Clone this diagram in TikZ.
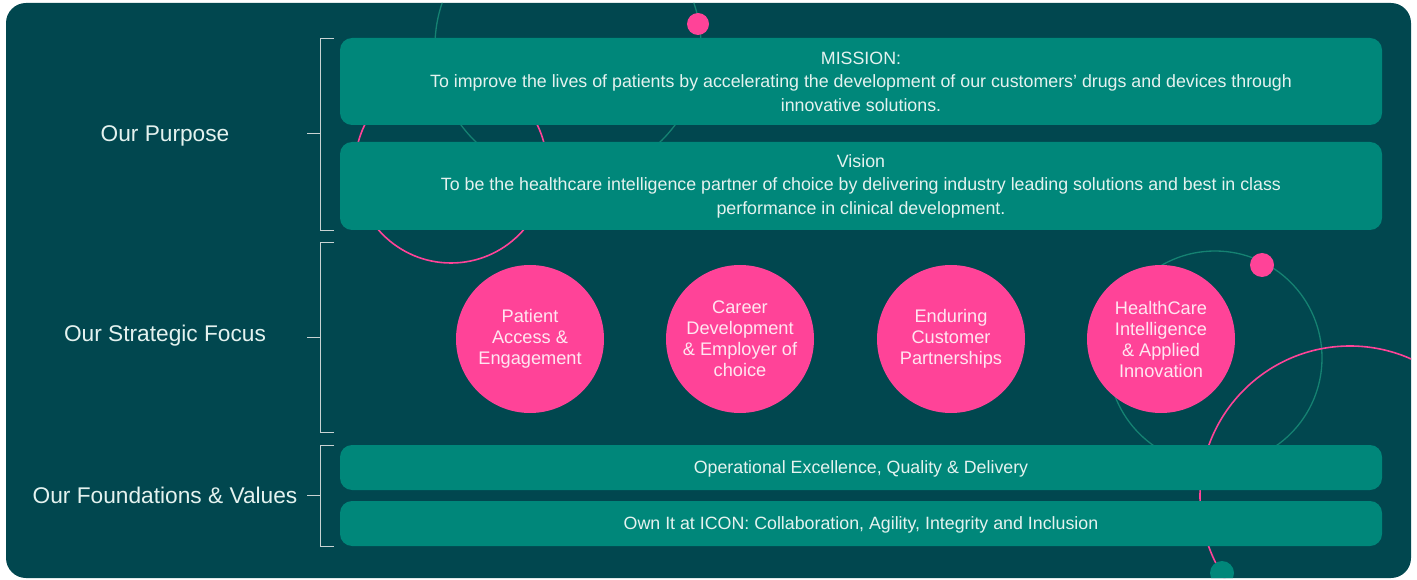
\documentclass[tikz,border=0pt]{standalone}
\usepackage{fontspec}
\setmainfont{Liberation Sans}

\definecolor{bgteal}{HTML}{01474F}
\definecolor{boxteal}{HTML}{00877A}
\definecolor{ringteal}{HTML}{158272}
\definecolor{hotpink}{HTML}{FF4398}
\definecolor{pale}{HTML}{E4F2EF}
\definecolor{rosy}{HTML}{FFE6F1}
\definecolor{rulegray}{HTML}{C9D3D3}

\tikzset{
  panel/.style={fill=boxteal, rounded corners=12pt, minimum width=1042pt, inner sep=0pt,
    text=pale, align=center, font=\fontsize{17.8}{23.5}\selectfont},
  strip/.style={panel, minimum height=45pt, text depth=0pt},
  focus/.style={circle, fill=hotpink, minimum size=148pt, inner sep=0pt,
    text=rosy, align=center, font=\fontsize{18.2}{21}\selectfont},
  level/.style={text=pale, inner sep=0pt, font=\fontsize{22.7}{26}\selectfont},
  bracket/.style={draw=rulegray, line width=0.9pt},
}

\begin{document}
\begin{tikzpicture}[x=1pt,y=1pt,yscale=-1]
        \useasboundingbox (0,0) rectangle (1417,580);

        %Shape: Rounded Rect [background]
        \fill[bgteal, rounded corners=20pt] (6,3) rectangle (1411,578);

        % decorative rings and dots, kept inside the background
        \begin{scope}
        \clip[rounded corners=20pt] (6,3) rectangle (1411,578);
        %Shape: Circle
        \draw[ringteal, line width=1.3pt] (568,46) circle (133pt);
        %Shape: Circle
        \draw[hotpink, line width=1.6pt] (451,167) circle (96pt);
        %Shape: Circle
        \draw[ringteal, line width=1.3pt] (1215,358) circle (107pt);
        %Shape: Circle
        \draw[hotpink, line width=1.6pt] (1350,496) circle (150pt);
        %Shape: Dots
        \fill[hotpink] (698,24) circle (11pt);
        \fill[hotpink] (1262,265) circle (12pt);
        \fill[boxteal] (1222,573) circle (12pt);
        \end{scope}

        %Shape: Rounded Rect [purpose]
        \node[panel, minimum height=87pt] (mission) at (861,81.5)
          {MISSION:\\To improve the lives of patients by accelerating the development of our customers’ drugs and devices through\\innovative solutions.};
        \node[panel, minimum height=88pt] (vision) at (861,186)
          {Vision\\To be the healthcare intelligence partner of choice by delivering industry leading solutions and best in class\\performance in clinical development.};

        %Shape: Circles [strategic focus]
        \node[focus] (patient) at (530,339) {Patient\\Access \&\\Engagement};
        \node[focus] (career) at (740,339) {Career\\Development\\\& Employer of\\choice};
        \node[focus] (customer) at (951,339) {Enduring\\Customer\\Partnerships};
        \node[focus] (health) at (1161,339) {HealthCare\\Intelligence\\\& Applied\\Innovation};

        %Shape: Rounded Rect [foundations]
        \node[strip] (operations) at (861,467.5)
          {Operational Excellence, Quality \& Delivery};
        \node[strip] (values) at (861,523.5)
          {Own It at ICON: Collaboration, Agility, Integrity and Inclusion};

        % Text Node
        \node[level] (purpose) at (165,136) {Our Purpose};
        % Text Node
        \node[level] (strategy) at (165,335.5) {Our Strategic Focus};
        % Text Node
        \node[level] (foundations) at (165,495.5) {Our Foundations \& Values};

        %Straight Lines [brackets]
        \draw[bracket] (334,38) -- (320,38) -- (320,230) -- (334,230);
        \draw[bracket] (307,133) -- (320,133);
        \draw[bracket] (334,242) -- (320,242) -- (320,432) -- (334,432);
        \draw[bracket] (307,337) -- (320,337);
        \draw[bracket] (334,445) -- (320,445) -- (320,546) -- (334,546);
        \draw[bracket] (307,495) -- (320,495);

\end{tikzpicture}
\end{document}
